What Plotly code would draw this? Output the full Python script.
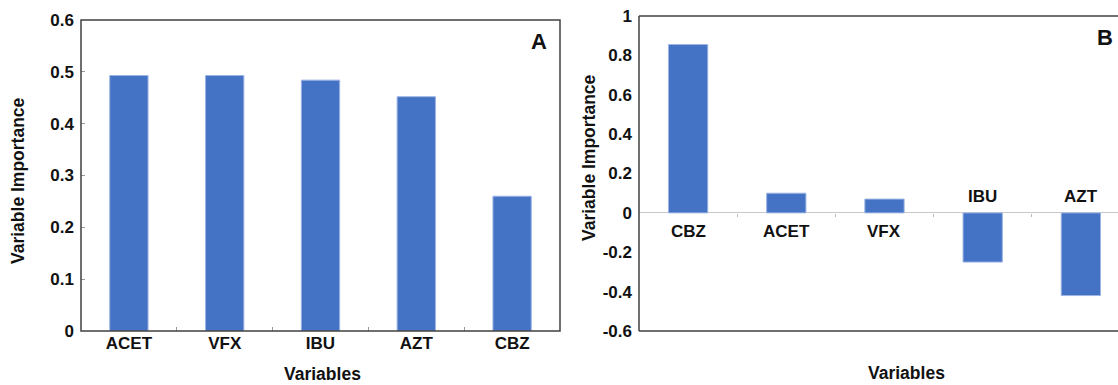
import plotly.graph_objects as go

# ---- data ----
cats_a = ["ACET", "VFX", "IBU", "AZT", "CBZ"]
vals_a = [0.493, 0.493, 0.484, 0.452, 0.260]

cats_b = ["CBZ", "ACET", "VFX", "IBU", "AZT"]
vals_b = [0.855, 0.100, 0.070, -0.250, -0.420]

yticks_b = [-0.6, -0.4, -0.2, 0, 0.2, 0.4, 0.6, 0.8, 1]
yticklabels_b = ["-0.6", "-0.4", "-0.2", "0", "0.2", "0.4", "0.6", "0.8", "1"]

BAR = "#4472C4"
EDGE = "#9DB5E3"
AXC = "#404040"
FONT = "Liberation Sans, Arial, sans-serif"
W, H = 1118, 385

def px(x):
    return x / W

def py(y):
    return 1 - y / H

fig = go.Figure()
fig.add_trace(go.Bar(x=cats_a, y=vals_a, marker=dict(color=BAR, line=dict(color=EDGE, width=1)),
                     xaxis="x", yaxis="y", width=0.4, showlegend=False))
fig.add_trace(go.Bar(x=list(range(len(cats_b))), y=vals_b,
                     marker=dict(color=BAR, line=dict(color=EDGE, width=1)),
                     xaxis="x2", yaxis="y2", width=0.4, showlegend=False))

tickfont = dict(family=FONT, size=17, color="#111111", weight="bold")

domA_x = [px(81), px(560)]
domB_x = [px(639), 1.0]
dom_y_A = [py(331), py(20)]
dom_y_B = [py(331), py(16)]

b_right = 4.378
zero_pos = dom_y_B[0] + (0 - (-0.6)) / 1.6 * (dom_y_B[1] - dom_y_B[0])

fig.update_layout(
    template="none",
    width=W, height=H,
    margin=dict(l=0, r=0, t=0, b=0, autoexpand=False),
    paper_bgcolor="white", plot_bgcolor="white",
    bargap=0.6,
    font=dict(family=FONT),
    xaxis=dict(domain=domA_x, anchor="y", type="category", categoryorder="array", categoryarray=cats_a,
               showline=False, automargin=False,
               ticks="inside", tickson="boundaries", ticklen=4, tickcolor="#999999",
               tickfont=tickfont, showgrid=False, fixedrange=True),
    yaxis=dict(domain=dom_y_A, anchor="x", range=[0, 0.6], dtick=0.1, automargin=False,
               showline=False,
               ticks="inside", ticklen=4, tickcolor="#999999",
               tickfont=tickfont, showgrid=False, zeroline=False, ticklabelstandoff=6),
    xaxis2=dict(domain=domB_x, anchor="y2", range=[-0.5, b_right], automargin=False,
                showline=False,
                ticks="", showticklabels=False, showgrid=False, zeroline=False),
    xaxis3=dict(overlaying="x2", anchor="free", position=zero_pos, range=[-0.5, b_right],
                automargin=False,
                tickmode="array", tickvals=[i + 0.5 for i in range(len(cats_b) - 1)],
                ticks="outside", ticklen=3, tickcolor="#bbbbbb",
                showline=False, showticklabels=False, showgrid=False, zeroline=False),
    yaxis2=dict(domain=dom_y_B, anchor="x2", range=[-0.6, 1], automargin=False,
                tickmode="array", tickvals=yticks_b, ticktext=yticklabels_b,
                showline=False,
                ticks="", tickfont=tickfont, showgrid=False,
                zeroline=True, zerolinecolor="#c8c8c8", zerolinewidth=1.2, ticklabelstandoff=6),
)

fig.add_trace(go.Scatter(x=[0], y=[0], xaxis="x3", yaxis="y2", mode="markers",
                         marker=dict(opacity=0), showlegend=False, hoverinfo="skip"))

# frames
frame = dict(color=AXC, width=1.5)
fig.add_shape(type="rect", xref="x domain", yref="y domain", x0=0, x1=1, y0=0, y1=1,
              line=frame, layer="above")
for seg in [dict(x0=0, x1=0, y0=0, y1=1), dict(x0=0, x1=1, y0=0, y1=0), dict(x0=0, x1=1, y0=1, y1=1)]:
    fig.add_shape(type="line", xref="x2 domain", yref="y2 domain", line=frame, layer="above", **seg)

ann = []
titlefont = dict(family=FONT, size=17.5, color="#111111", weight="bold")
C = dict(xanchor="center", yanchor="middle", showarrow=False, xref="paper", yref="paper")
ann.append(dict(text="A", x=px(539), y=py(41),
                font=dict(family=FONT, size=22, color="#111111", weight="bold"), **C))
ann.append(dict(text="B", x=px(1105), y=py(37),
                font=dict(family=FONT, size=22, color="#111111", weight="bold"), **C))
ann.append(dict(text="Variable Importance", x=px(18), y=py(181), textangle=-90, font=titlefont, **C))
ann.append(dict(text="Variable Importance", x=px(589), y=py(158), textangle=-90, font=titlefont, **C))
ann.append(dict(text="Variables", x=px(322), y=py(374), font=titlefont, **C))
ann.append(dict(text="Variables", x=px(906), y=py(373), font=titlefont, **C))
for i, (c, v) in enumerate(zip(cats_b, vals_b)):
    if v >= 0:
        ann.append(dict(text=c, x=i, y=0, xref="x2", yref="y2", showarrow=False, xanchor="center",
                        yanchor="top", yshift=-7, font=tickfont))
    else:
        ann.append(dict(text=c, x=i, y=0, xref="x2", yref="y2", showarrow=False, xanchor="center",
                        yanchor="bottom", yshift=5, font=tickfont))
fig.update_layout(annotations=ann)

fig.write_html("out.html")
